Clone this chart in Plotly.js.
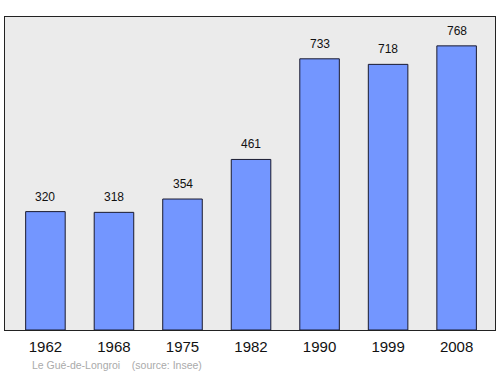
<!DOCTYPE html>
<html><head><meta charset="utf-8">
<script src="https://cdn.plot.ly/plotly-3.0.1.min.js"></script>
<style>body{margin:0;padding:0;background:#fff}#chart{width:500px;height:374px}</style>
</head><body><div id="chart"></div>
<script>
const years = ['1962','1968','1975','1982','1990','1999','2008'];
const population = [320, 318, 354, 461, 733, 718, 768];
const sourceText = 'Le Gué-de-Longroi    (source: Insee)';

const trace = {
  type: 'bar',
  x: years,
  y: population,
  width: 0.577,
  marker: {color: '#7396ff', line: {color: '#1a1a2e', width: 1}},
  hoverinfo: 'skip'
};

const annotations = years.map((yr, i) => ({
  x: i, y: population[i], xref: 'x', yref: 'y',
  text: String(population[i]), showarrow: false,
  yanchor: 'middle', yshift: 15,
  font: {family: 'Liberation Sans, Arial, sans-serif', size: 12, color: '#111'}
}));
annotations.push({
  xref: 'paper', yref: 'paper', x: 0.05, y: -0.112, xanchor: 'left', yanchor: 'middle',
  text: sourceText, showarrow: false,
  font: {family: 'Liberation Sans, Arial, sans-serif', size: 10.5, color: '#aaaaaa'}
});

const layout = {
  width: 500, height: 374,
  margin: {l: 5, r: 5, t: 17, b: 44, pad: 0},
  paper_bgcolor: '#ffffff',
  plot_bgcolor: '#ebebeb',
  showlegend: false,
  xaxis: {
    type: 'category', range: [-0.59, 6.56],
    showline: true, mirror: true, linecolor: '#222', linewidth: 1,
    ticks: '', showgrid: false, zeroline: false, ticklabelstandoff: 3,
    tickfont: {family: 'Liberation Sans, Arial, sans-serif', size: 15, color: '#111'}
  },
  yaxis: {
    range: [0, 846], showticklabels: false,
    showline: true, mirror: true, linecolor: '#222', linewidth: 1,
    ticks: '', showgrid: false, zeroline: false
  },
  annotations: annotations
};

Plotly.newPlot('chart', [trace], layout, {staticPlot: true, displayModeBar: false});
</script></body></html>
